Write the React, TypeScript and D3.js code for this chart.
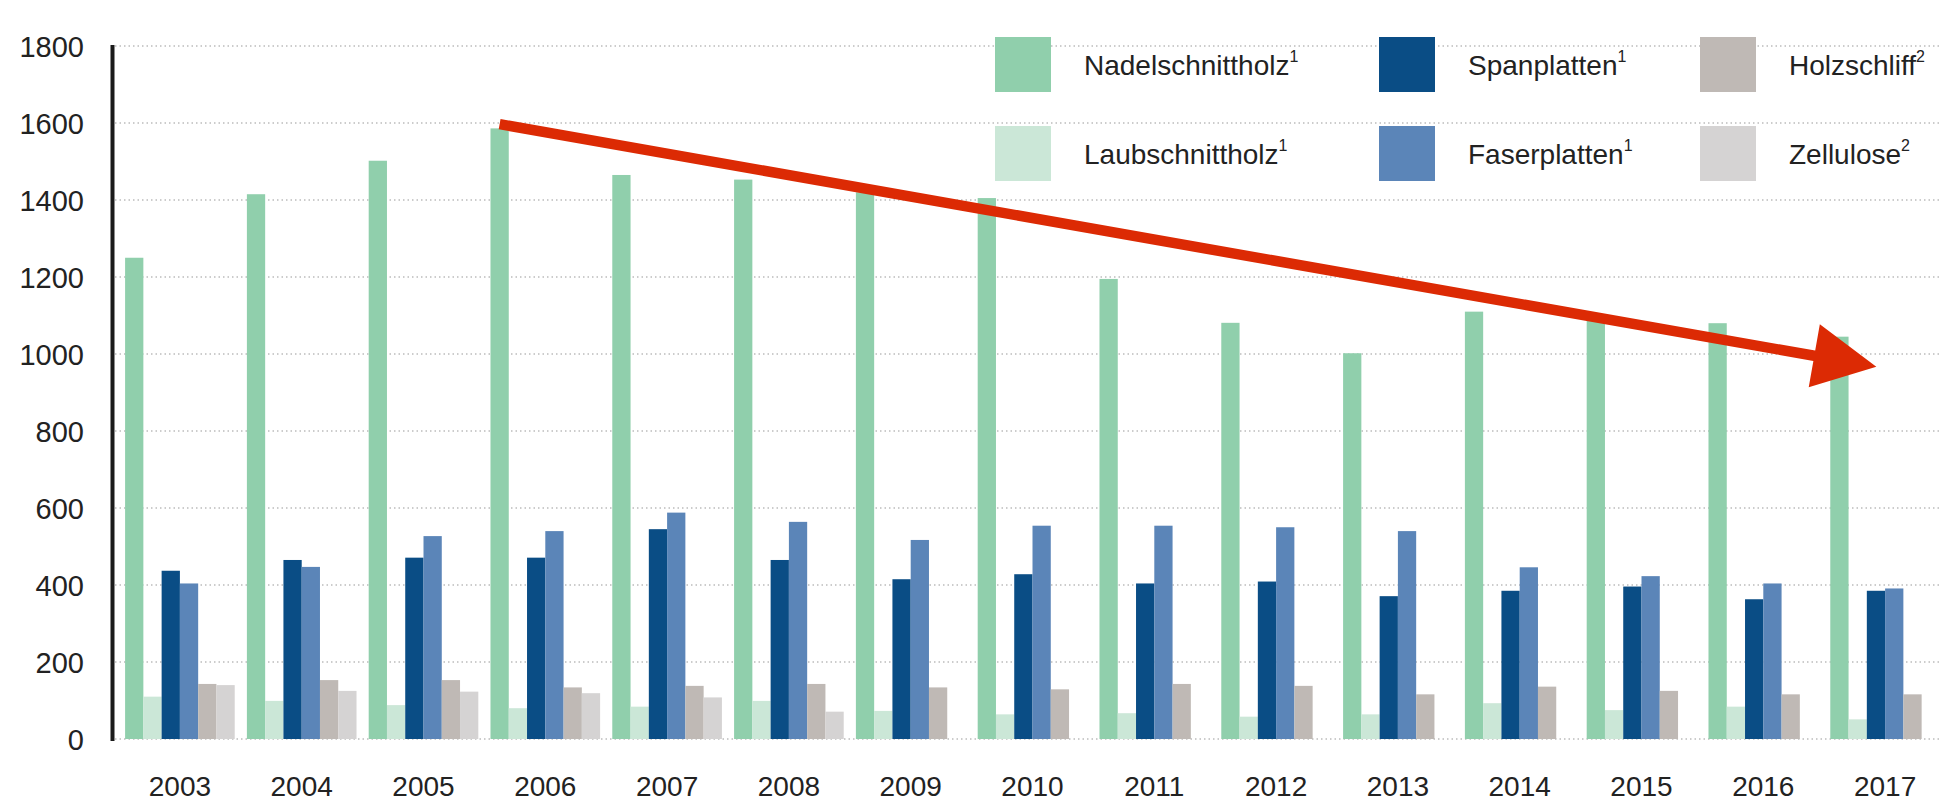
import React from "react";
import * as d3 from "d3";

// Produktion Holzprodukte, 2003-2017
const years = ["2003", "2004", "2005", "2006", "2007", "2008", "2009", "2010", "2011", "2012", "2013", "2014", "2015", "2016", "2017"];
const nadelschnittholz = [1250, 1415, 1502, 1586, 1465, 1453, 1420, 1405, 1195, 1081, 1002, 1110, 1090, 1080, 1045];
const laubschnittholz = [110, 99, 88, 80, 84, 99, 73, 64, 67, 58, 64, 93, 75, 84, 51];
const spanplatten = [437, 465, 471, 471, 545, 465, 415, 428, 404, 409, 371, 385, 396, 363, 385];
const faserplatten = [404, 447, 527, 540, 588, 564, 517, 554, 554, 550, 540, 446, 423, 404, 391];
const holzschliff = [143, 153, 153, 134, 138, 143, 134, 129, 143, 138, 116, 136, 125, 116, 116];
const zellulose = [140, 125, 123, 119, 108, 71, null, null, null, null, null, null, null, null, null];

const seriesNames = ["Nadelschnittholz", "Laubschnittholz", "Spanplatten", "Faserplatten", "Holzschliff", "Zellulose"];
const footnotes = ["1", "1", "1", "1", "2", "2"];
const seriesValues = [nadelschnittholz, laubschnittholz, spanplatten, faserplatten, holzschliff, zellulose];
const colors = ["#90cfac", "#cbe7d7", "#0a4d85", "#5b85b8", "#bfb9b5", "#d5d3d3"];
const yTicks = [0, 200, 400, 600, 800, 1000, 1200, 1400, 1600, 1800];

// trend arrow (annotation): from 2006 peak to 2017
const arrowFrom = { year: "2006", value: 1597 };
const arrowTo = { year: "2017", value: 967 };

const W = 1943;
const H = 803;
const font = "'Liberation Sans', Arial, sans-serif";

export default function App() {
  const x = d3.scaleBand<string>().domain(years).range([119, 1946]).paddingInner(0.1).paddingOuter(0.05);
  const inner = d3.scaleBand<string>().domain(seriesNames).range([0, x.bandwidth()]);
  const y = d3.scaleLinear().domain([0, 1800]).range([739, 46]);

  // arrow geometry
  const x0 = (x(arrowFrom.year) as number) + (inner("Nadelschnittholz") as number) + inner.bandwidth() / 2;
  const y0 = y(arrowFrom.value);
  const x1 = (x(arrowTo.year) as number) + x.bandwidth() * 0.42;
  const y1 = y(arrowTo.value);
  const len = Math.hypot(x1 - x0, y1 - y0);
  const ux = (x1 - x0) / len;
  const uy = (y1 - y0) / len;
  const px = -uy;
  const py = ux;
  const shaft = 10.5 / 2;
  const headLen = 63;
  const headW = 64 / 2;
  const bx = x1 - ux * headLen;
  const by = y1 - uy * headLen;
  const arrowPts = [
    [x0 + px * shaft, y0 + py * shaft],
    [bx + px * shaft, by + py * shaft],
    [bx + px * headW, by + py * headW],
    [x1, y1],
    [bx - px * headW, by - py * headW],
    [bx - px * shaft, by - py * shaft],
    [x0 - px * shaft, y0 - py * shaft],
  ];

  const legendCols = [995, 1379, 1700];
  const legendRows = [65, 154];

  return (
    <svg width={W} height={H} style={{ position: "absolute", left: 0, top: 0, background: "#fff" }}>
      {/* gridlines */}
      {yTicks.map((t) => (
        <line key={t} x1={115} x2={1940} y1={y(t)} y2={y(t)} stroke="#9a9a9a" strokeWidth={1.2} strokeDasharray="1.5 3" />
      ))}

      {/* bars */}
      {years.map((yr, i) => (
        <g key={yr} transform={`translate(${x(yr)},0)`}>
          {seriesNames.map((s, j) => {
            const v = seriesValues[j][i];
            if (v == null) return null;
            return (
              <rect key={s} x={inner(s)} y={y(v)} width={inner.bandwidth()} height={y(0) - y(v)} fill={colors[j]} />
            );
          })}
        </g>
      ))}

      {/* y axis */}
      <line x1={112.5} x2={112.5} y1={y(1800) - 1} y2={y(0) + 2} stroke="#1a1a1a" strokeWidth={4} />
      {yTicks.map((t) => (
        <text key={t} x={84} y={y(t) + 1} textAnchor="end" dominantBaseline="central" fontFamily={font} fontSize={29} fill="#222">
          {t}
        </text>
      ))}

      {/* x labels */}
      {years.map((yr) => (
        <text key={yr} x={(x(yr) as number) + x.bandwidth() / 2} y={786} textAnchor="middle" dominantBaseline="central" fontFamily={font} fontSize={28} fill="#222">
          {yr}
        </text>
      ))}

      {/* legend */}
      {seriesNames.map((s, j) => {
        const lx = legendCols[Math.floor(j / 2)];
        const ly = legendRows[j % 2];
        return (
          <g key={s}>
            <rect x={lx} y={ly - 28} width={56} height={55} fill={colors[j]} />
            <text x={lx + 89} y={ly} dominantBaseline="central" fontFamily={font} fontSize={28} fill="#222">
              {s}
              <tspan fontSize={16} dy={-9}>{footnotes[j]}</tspan>
            </text>
          </g>
        );
      })}

      {/* trend arrow */}
      <polygon points={arrowPts.map((p) => p.join(",")).join(" ")} fill="#dc2a04" />
    </svg>
  );
}
